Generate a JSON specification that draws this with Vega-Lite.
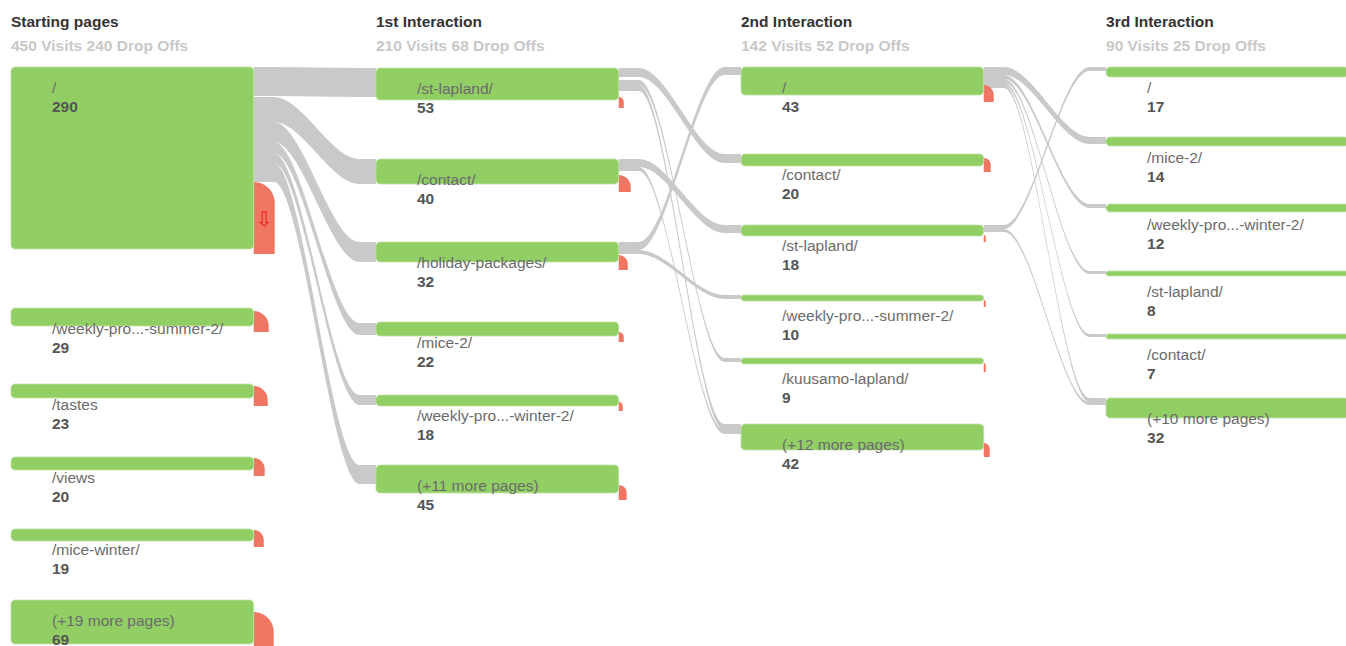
{
  "$schema": "https://vega.github.io/schema/vega-lite/v6.json",
  "width": 1346,
  "height": 646,
  "padding": 0,
  "autosize": {"type": "none"},
  "background": "white",
  "config": {"view": {"stroke": null}},
  "datasets": {
    "nodes": [
      {"c": 0, "xe": 0.665, "page": "/", "n": 290, "yt": 67, "yb": 249},
      {"c": 0, "xe": 0.665, "page": "/weekly-pro...-summer-2/", "n": 29, "yt": 308, "yb": 326},
      {"c": 0, "xe": 0.665, "page": "/tastes", "n": 23, "yt": 384, "yb": 398},
      {"c": 0, "xe": 0.665, "page": "/views", "n": 20, "yt": 457, "yb": 470},
      {"c": 0, "xe": 0.665, "page": "/mice-winter/", "n": 19, "yt": 529, "yb": 541},
      {"c": 0, "xe": 0.665, "page": "(+19 more pages)", "n": 69, "yt": 600, "yb": 644},
      {"c": 1, "xe": 1.665, "page": "/st-lapland/", "n": 53, "yt": 68, "yb": 100},
      {"c": 1, "xe": 1.665, "page": "/contact/", "n": 40, "yt": 159, "yb": 184},
      {"c": 1, "xe": 1.665, "page": "/holiday-packages/", "n": 32, "yt": 242, "yb": 262},
      {"c": 1, "xe": 1.665, "page": "/mice-2/", "n": 22, "yt": 322, "yb": 336},
      {"c": 1, "xe": 1.665, "page": "/weekly-pro...-winter-2/", "n": 18, "yt": 395, "yb": 406},
      {"c": 1, "xe": 1.665, "page": "(+11 more pages)", "n": 45, "yt": 465, "yb": 493},
      {"c": 2, "xe": 2.665, "page": "/", "n": 43, "yt": 67, "yb": 95},
      {"c": 2, "xe": 2.665, "page": "/contact/", "n": 20, "yt": 154, "yb": 166},
      {"c": 2, "xe": 2.665, "page": "/st-lapland/", "n": 18, "yt": 225, "yb": 236},
      {"c": 2, "xe": 2.665, "page": "/weekly-pro...-summer-2/", "n": 10, "yt": 295, "yb": 301},
      {"c": 2, "xe": 2.665, "page": "/kuusamo-lapland/", "n": 9, "yt": 358, "yb": 364},
      {"c": 2, "xe": 2.665, "page": "(+12 more pages)", "n": 42, "yt": 424, "yb": 450},
      {"c": 3, "xe": 3.665, "page": "/", "n": 17, "yt": 67, "yb": 77},
      {"c": 3, "xe": 3.665, "page": "/mice-2/", "n": 14, "yt": 137, "yb": 146},
      {"c": 3, "xe": 3.665, "page": "/weekly-pro...-winter-2/", "n": 12, "yt": 204, "yb": 212},
      {"c": 3, "xe": 3.665, "page": "/st-lapland/", "n": 8, "yt": 271, "yb": 276},
      {"c": 3, "xe": 3.665, "page": "/contact/", "n": 7, "yt": 334, "yb": 339},
      {"c": 3, "xe": 3.665, "page": "(+10 more pages)", "n": 32, "yt": 398, "yb": 418}
    ],
    "drops": [
      {"xe": 0.665, "xr": 0.7225, "r": 21, "ym": 203, "yb": 254},
      {"xe": 0.665, "xr": 0.7061, "r": 15, "ym": 326, "yb": 332},
      {"xe": 0.665, "xr": 0.7034, "r": 14, "ym": 400, "yb": 406},
      {"xe": 0.665, "xr": 0.6951, "r": 11, "ym": 469, "yb": 476},
      {"xe": 0.665, "xr": 0.6924, "r": 10, "ym": 540, "yb": 547},
      {"xe": 0.665, "xr": 0.7198, "r": 20, "ym": 632, "yb": 646},
      {"xe": 1.665, "xr": 1.6787, "r": 5, "ym": 102, "yb": 108},
      {"xe": 1.665, "xr": 1.6979, "r": 12, "ym": 187, "yb": 192},
      {"xe": 1.665, "xr": 1.6897, "r": 9, "ym": 264, "yb": 270},
      {"xe": 1.665, "xr": 1.6787, "r": 5, "ym": 337, "yb": 342},
      {"xe": 1.665, "xr": 1.6760, "r": 4, "ym": 406, "yb": 411},
      {"xe": 1.665, "xr": 1.6869, "r": 8, "ym": 493, "yb": 500},
      {"xe": 2.665, "xr": 2.6924, "r": 10, "ym": 95, "yb": 102},
      {"xe": 2.665, "xr": 2.6842, "r": 7, "ym": 165, "yb": 172},
      {"xe": 2.665, "xr": 2.6705, "r": 2, "ym": 237, "yb": 242},
      {"xe": 2.665, "xr": 2.6705, "r": 2, "ym": 302, "yb": 307},
      {"xe": 2.665, "xr": 2.6705, "r": 2, "ym": 365, "yb": 372},
      {"xe": 2.665, "xr": 2.6814, "r": 6, "ym": 449, "yb": 457}
    ],
    "links": [
      {"l": 1, "x": 0.665, "y": 67, "y2": 96}, {"l": 1, "x": 0.72, "y": 67, "y2": 96}, {"l": 1, "x": 0.955, "y": 68, "y2": 97}, {"l": 1, "x": 1.0, "y": 68, "y2": 97},
      {"l": 2, "x": 0.665, "y": 97, "y2": 122}, {"l": 2, "x": 0.72, "y": 97, "y2": 122}, {"l": 2, "x": 0.955, "y": 159, "y2": 184}, {"l": 2, "x": 1.0, "y": 159, "y2": 184},
      {"l": 3, "x": 0.665, "y": 122, "y2": 142}, {"l": 3, "x": 0.72, "y": 122, "y2": 142}, {"l": 3, "x": 0.955, "y": 242, "y2": 262}, {"l": 3, "x": 1.0, "y": 242, "y2": 262},
      {"l": 4, "x": 0.665, "y": 142, "y2": 153}, {"l": 4, "x": 0.72, "y": 142, "y2": 153}, {"l": 4, "x": 0.955, "y": 323, "y2": 335}, {"l": 4, "x": 1.0, "y": 323, "y2": 335},
      {"l": 5, "x": 0.665, "y": 153, "y2": 163}, {"l": 5, "x": 0.72, "y": 153, "y2": 163}, {"l": 5, "x": 0.955, "y": 395, "y2": 405}, {"l": 5, "x": 1.0, "y": 395, "y2": 405},
      {"l": 6, "x": 0.665, "y": 163, "y2": 182}, {"l": 6, "x": 0.72, "y": 163, "y2": 182}, {"l": 6, "x": 0.955, "y": 465, "y2": 484}, {"l": 6, "x": 1.0, "y": 465, "y2": 484},
      {"l": 7, "x": 1.665, "y": 68, "y2": 77}, {"l": 7, "x": 1.72, "y": 68, "y2": 77}, {"l": 7, "x": 1.955, "y": 154, "y2": 163}, {"l": 7, "x": 2.0, "y": 154, "y2": 163},
      {"l": 8, "x": 1.665, "y": 80, "y2": 85}, {"l": 8, "x": 1.72, "y": 80, "y2": 85}, {"l": 8, "x": 1.955, "y": 358, "y2": 362}, {"l": 8, "x": 2.0, "y": 358, "y2": 362},
      {"l": 9, "x": 1.665, "y": 85, "y2": 91}, {"l": 9, "x": 1.72, "y": 85, "y2": 91}, {"l": 9, "x": 1.955, "y": 424, "y2": 430}, {"l": 9, "x": 2.0, "y": 424, "y2": 430},
      {"l": 10, "x": 1.665, "y": 159, "y2": 167}, {"l": 10, "x": 1.72, "y": 159, "y2": 167}, {"l": 10, "x": 1.955, "y": 225, "y2": 233}, {"l": 10, "x": 2.0, "y": 225, "y2": 233},
      {"l": 11, "x": 1.665, "y": 167, "y2": 171}, {"l": 11, "x": 1.72, "y": 167, "y2": 171}, {"l": 11, "x": 1.955, "y": 430, "y2": 434}, {"l": 11, "x": 2.0, "y": 430, "y2": 434},
      {"l": 12, "x": 1.665, "y": 242, "y2": 250}, {"l": 12, "x": 1.72, "y": 242, "y2": 250}, {"l": 12, "x": 1.955, "y": 67, "y2": 75}, {"l": 12, "x": 2.0, "y": 67, "y2": 75},
      {"l": 13, "x": 1.665, "y": 250, "y2": 254}, {"l": 13, "x": 1.72, "y": 250, "y2": 254}, {"l": 13, "x": 1.955, "y": 295, "y2": 299}, {"l": 13, "x": 2.0, "y": 295, "y2": 299},
      {"l": 14, "x": 2.665, "y": 67, "y2": 75}, {"l": 14, "x": 2.72, "y": 67, "y2": 75}, {"l": 14, "x": 2.955, "y": 137, "y2": 144}, {"l": 14, "x": 3.0, "y": 137, "y2": 144},
      {"l": 15, "x": 2.665, "y": 75, "y2": 79}, {"l": 15, "x": 2.72, "y": 75, "y2": 79}, {"l": 15, "x": 2.955, "y": 204, "y2": 208}, {"l": 15, "x": 3.0, "y": 204, "y2": 208},
      {"l": 16, "x": 2.665, "y": 79, "y2": 82}, {"l": 16, "x": 2.72, "y": 79, "y2": 82}, {"l": 16, "x": 2.955, "y": 271, "y2": 274}, {"l": 16, "x": 3.0, "y": 271, "y2": 274},
      {"l": 17, "x": 2.665, "y": 82, "y2": 85}, {"l": 17, "x": 2.72, "y": 82, "y2": 85}, {"l": 17, "x": 2.955, "y": 334, "y2": 337}, {"l": 17, "x": 3.0, "y": 334, "y2": 337},
      {"l": 18, "x": 2.665, "y": 85, "y2": 88}, {"l": 18, "x": 2.72, "y": 85, "y2": 88}, {"l": 18, "x": 2.955, "y": 398, "y2": 402}, {"l": 18, "x": 3.0, "y": 398, "y2": 402},
      {"l": 19, "x": 2.665, "y": 225, "y2": 229}, {"l": 19, "x": 2.72, "y": 225, "y2": 229}, {"l": 19, "x": 2.955, "y": 67, "y2": 71}, {"l": 19, "x": 3.0, "y": 67, "y2": 71},
      {"l": 20, "x": 2.665, "y": 229, "y2": 232}, {"l": 20, "x": 2.72, "y": 229, "y2": 232}, {"l": 20, "x": 2.955, "y": 402, "y2": 405}, {"l": 20, "x": 3.0, "y": 402, "y2": 405}
    ],
    "headers": [
      {"c": 0, "title": "Starting pages", "sub": "450 Visits 240 Drop Offs"},
      {"c": 1, "title": "1st Interaction", "sub": "210 Visits 68 Drop Offs"},
      {"c": 2, "title": "2nd Interaction", "sub": "142 Visits 52 Drop Offs"},
      {"c": 3, "title": "3rd Interaction", "sub": "90 Visits 25 Drop Offs"}
    ],
    "arrows": [
      {"xe": 0.665, "ym": 220, "t": "⇩"}
    ]
  },
  "layer": [
    {
      "data": {"name": "links"},
      "mark": {"type": "area", "orient": "vertical", "interpolate": "monotone", "color": "#c9c9c9"},
      "encoding": {
        "x": {"field": "x", "type": "quantitative", "scale": {"domain": [-0.0301, 3.6575], "nice": false, "zero": false}, "axis": null},
        "y": {"field": "y", "type": "quantitative", "stack": null, "scale": {"domain": [0, 646], "reverse": true, "nice": false, "zero": false}, "axis": null},
        "y2": {"field": "y2"},
        "detail": {"field": "l", "type": "nominal"}
      }
    },
    {
      "data": {"name": "drops"},
      "mark": {"type": "rect", "color": "#ef7663"},
      "encoding": {
        "x": {"field": "xe", "type": "quantitative", "axis": null},
        "x2": {"field": "xr"},
        "y": {"field": "ym", "type": "quantitative", "axis": null},
        "y2": {"field": "yb"}
      }
    },
    {
      "data": {"name": "drops"},
      "mark": {"type": "point", "shape": "M0,0L0,-1A1,1,0,0,1,1,0Z", "filled": true, "opacity": 1, "strokeWidth": 0, "color": "#ef7663"},
      "encoding": {
        "x": {"field": "xe", "type": "quantitative", "axis": null},
        "y": {"field": "ym", "type": "quantitative", "axis": null},
        "size": {"field": "r", "type": "quantitative", "scale": {"type": "pow", "exponent": 2, "domain": [0, 25], "range": [0, 2500]}, "legend": null}
      }
    },
    {
      "data": {"name": "nodes"},
      "mark": {"type": "rect", "color": "#91cf65", "cornerRadius": 4, "stroke": "#bfe2a8", "strokeWidth": 0.8},
      "encoding": {
        "x": {"field": "c", "type": "quantitative", "axis": null},
        "x2": {"field": "xe"},
        "y": {"field": "yt", "type": "quantitative", "axis": null},
        "y2": {"field": "yb"}
      }
    },
    {
      "data": {"name": "arrows"},
      "mark": {"type": "text", "font": "DejaVu Sans", "fontSize": 20, "color": "#e8231a", "dx": 10.5, "align": "center", "baseline": "middle"},
      "encoding": {
        "x": {"field": "xe", "type": "quantitative", "axis": null},
        "y": {"field": "ym", "type": "quantitative", "axis": null},
        "text": {"field": "t"}
      }
    },
    {
      "data": {"name": "nodes"},
      "mark": {"type": "text", "font": "Liberation Sans", "fontSize": 15.5, "color": "#6b6b6b", "align": "left", "baseline": "middle", "dx": 41, "dy": 21},
      "encoding": {
        "x": {"field": "c", "type": "quantitative", "axis": null},
        "y": {"field": "yt", "type": "quantitative", "axis": null},
        "text": {"field": "page"}
      }
    },
    {
      "data": {"name": "nodes"},
      "mark": {"type": "text", "font": "Liberation Sans", "fontSize": 15.5, "fontWeight": "bold", "color": "#555555", "align": "left", "baseline": "middle", "dx": 41, "dy": 40},
      "encoding": {
        "x": {"field": "c", "type": "quantitative", "axis": null},
        "y": {"field": "yt", "type": "quantitative", "axis": null},
        "text": {"field": "n"}
      }
    },
    {
      "data": {"name": "headers"},
      "mark": {"type": "text", "font": "Liberation Sans", "fontSize": 15.5, "fontWeight": "bold", "color": "#333333", "align": "left", "baseline": "middle", "dy": 22},
      "encoding": {
        "x": {"field": "c", "type": "quantitative", "axis": null},
        "y": {"datum": 0, "type": "quantitative", "axis": null},
        "text": {"field": "title"}
      }
    },
    {
      "data": {"name": "headers"},
      "mark": {"type": "text", "font": "Liberation Sans", "fontSize": 15.5, "fontWeight": "bold", "color": "#c8c8c8", "align": "left", "baseline": "middle", "dy": 46},
      "encoding": {
        "x": {"field": "c", "type": "quantitative", "axis": null},
        "y": {"datum": 0, "type": "quantitative", "axis": null},
        "text": {"field": "sub"}
      }
    }
  ]
}
